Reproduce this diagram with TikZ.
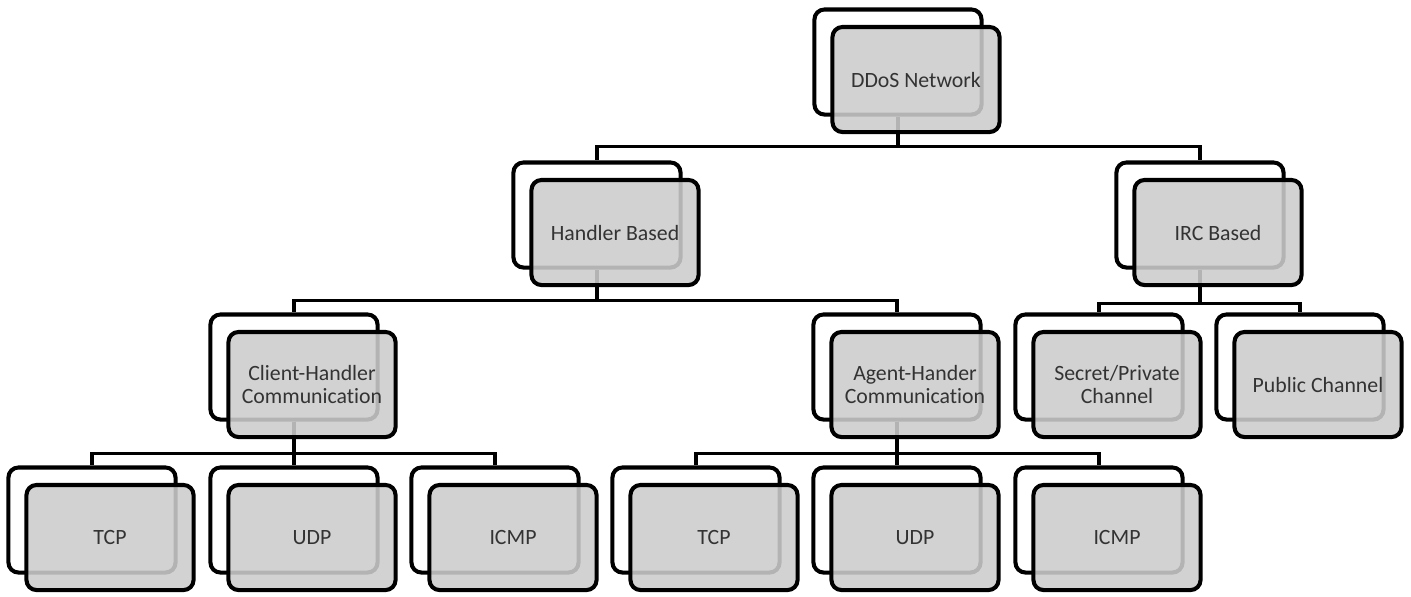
\documentclass[tikz,border=0pt]{standalone}
\usepackage{fontspec}
\setmainfont{Carlito}[Ligatures=NoCommon]
\usetikzlibrary{backgrounds}
\begin{document}
\begin{tikzpicture}[x=0.01cm,y=-0.01cm,
    back/.style={draw, line width=1.15pt, rounded corners=0.1cm, fill=white,
      minimum width=1.67cm, minimum height=1.05cm, inner sep=0pt},
    front/.style={back, fill=black!20, fill opacity=0.88, text opacity=1,
      xshift=0.18cm, yshift=-0.175cm, align=center, text=black!80,
      font=\fontsize{6.2}{6.4}\selectfont},
    link/.style={line width=0.95pt}]
        \useasboundingbox (0,0) rectangle (1411,596);

        % racine
        \node[back] (ddosb) at (898,62) {};
        \node[front] (ddos) at (ddosb) {DDoS Network};

        % niveau 2
        \node[back] (handlerb) at (597,215) {};
        \node[front] (handler) at (handlerb) {Handler Based};
        \node[back] (ircb) at (1200,215) {};
        \node[front] (irc) at (ircb) {IRC Based};

        % niveau 3
        \node[back] (clientb) at (294,367) {};
        \node[front] (client) at (clientb) {Client-Handler\\Communication};
        \node[back] (agentb) at (897,367) {};
        \node[front] (agent) at (agentb) {Agent-Hander\\Communication};
        \node[back] (secretb) at (1099,367) {};
        \node[front] (secret) at (secretb) {Secret/Private\\Channel};
        \node[back] (publicb) at (1300,367) {};
        \node[front] (public) at (publicb) {Public Channel};

        % niveau 4
        \node[back] (ctcpb) at (92,520) {};
        \node[front] (ctcp) at (ctcpb) {TCP};
        \node[back] (cudpb) at (294,520) {};
        \node[front] (cudp) at (cudpb) {UDP};
        \node[back] (cicmpb) at (495,520) {};
        \node[front] (cicmp) at (cicmpb) {ICMP};
        \node[back] (atcpb) at (696,520) {};
        \node[front] (atcp) at (atcpb) {TCP};
        \node[back] (audpb) at (897,520) {};
        \node[front] (audp) at (audpb) {UDP};
        \node[back] (aicmpb) at (1099,520) {};
        \node[front] (aicmp) at (aicmpb) {ICMP};

        % liens
        \begin{pgfonlayer}{background}
        \draw[link] (ddosb.south) -- ++(0,30) -| (handlerb.north);
        \draw[link] (ddosb.south) -- ++(0,30) -| (ircb.north);
        \draw[link] (handlerb.south) -- ++(0,31) -| (clientb.north);
        \draw[link] (handlerb.south) -- ++(0,31) -| (agentb.north);
        \draw[link] (ircb.south) -- ++(0,34) -| (secretb.north);
        \draw[link] (ircb.south) -- ++(0,34) -| (publicb.north);
        \draw[link] (clientb.south) -- ++(0,32) -| (ctcpb.north);
        \draw[link] (clientb.south) -- ++(0,32) -| (cudpb.north);
        \draw[link] (clientb.south) -- ++(0,32) -| (cicmpb.north);
        \draw[link] (agentb.south) -- ++(0,32) -| (atcpb.north);
        \draw[link] (agentb.south) -- ++(0,32) -| (audpb.north);
        \draw[link] (agentb.south) -- ++(0,32) -| (aicmpb.north);
        \end{pgfonlayer}

    \end{tikzpicture}
\end{document}
